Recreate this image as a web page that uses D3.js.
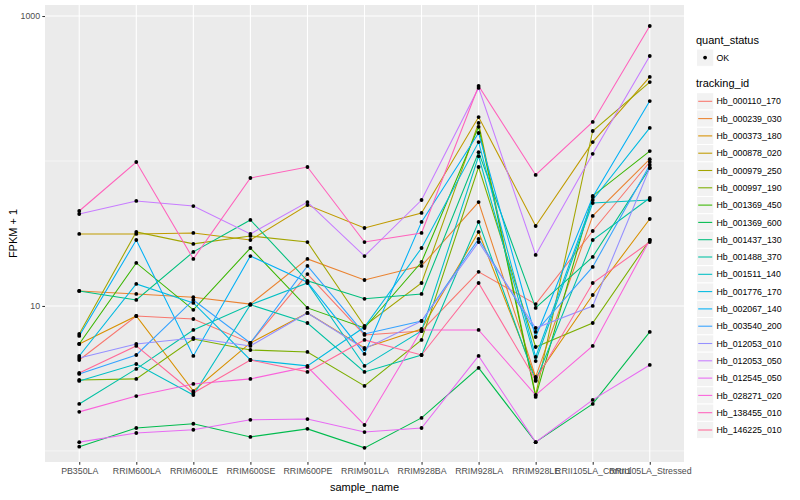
<!DOCTYPE html>
<html><head><meta charset="utf-8">
<script src="https://cdn.jsdelivr.net/npm/d3@7"></script>
<style>body{margin:0;background:#fff}svg{display:block}text{font-family:"Liberation Sans",Arial,Helvetica,sans-serif}</style>
</head><body><svg id="c" width="800" height="500"></svg>
<script>
const samples = ["PB350LA","RRIM600LA","RRIM600LE","RRIM600SE","RRIM600PE","RRIM901LA","RRIM928BA","RRIM928LA","RRIM928LE","RRII105LA_Control","RRII105LA_Stressed"];
const trackingIds = ["Hb_000110_170","Hb_000239_030","Hb_000373_180","Hb_000878_020","Hb_000979_250","Hb_000997_190","Hb_001369_450","Hb_001369_600","Hb_001437_130","Hb_001488_370","Hb_001511_140","Hb_001776_170","Hb_002067_140","Hb_003540_200","Hb_012053_010","Hb_012053_050","Hb_012545_050","Hb_028271_020","Hb_138455_010","Hb_146225_010"];
const colors = ["#F8766D","#EA8331","#D89000","#C09B00","#A3A500","#7CAE00","#39B600","#00BB4E","#00BF7D","#00C1A3","#00BFC4","#00BAE0","#00B0F6","#35A2FF","#9590FF","#C77CFF","#E76BF3","#FA62DB","#FF62BC","#FF6A98"];
// FPKM + 1 values, one array per tracking id, in sample order
const s01 = [4.24, 8.53, 8.13, 5.56, 16.6, 6.31, 6.72, 17.2, 10.3, 32.9, 98.4];
const s02 = [12.7, 12.1, 11.5, 10.3, 21.1, 15.1, 18.9, 52.1, 3.24, 41.8, 103];
const s03 = [5.47, 8.53, 2.59, 5.56, 8.95, 5.13, 6.94, 32.4, 3.19, 11.9, 39.8];
const s04 = [31.4, 31.4, 31.9, 28.5, 49.7, 34.5, 43.8, 201, 35.6, 135, 380];
const s05 = [6.41, 32.4, 26.8, 30.4, 27.6, 7.28, 14.4, 183, 2.43, 161, 350];
const s06 = [3.09, 3.14, 5.92, 4.97, 4.82, 2.81, 5.83, 90.9, 5.21, 7.63, 28.5];
const s07 = [5.47, 19.8, 9.4, 25.1, 9.7, 7.05, 20.1, 172, 2.36, 57.4, 117];
const s08 = [1.07, 1.44, 1.54, 1.25, 1.42, 1.05, 1.69, 3.74, 1.15, 2.11, 6.62];
const s09 = [12.7, 11.0, 23.6, 39.2, 14.9, 11.2, 12.1, 115, 9.7, 21.8, 89.5];
const s10 = [2.11, 3.68, 6.83, 10.2, 7.63, 3.51, 4.59, 38.0, 3.04, 28.5, 55.6];
const s11 = [3.04, 3.98, 2.43, 10.2, 14.4, 3.86, 6.72, 108, 4.17, 51.3, 53.8];
const s12 = [4.52, 14.2, 10.5, 4.24, 3.86, 7.16, 25.1, 135, 4.45, 53.8, 169];
const s13 = [6.21, 28.5, 4.52, 22.1, 14.6, 4.67, 38.0, 156, 6.11, 56.5, 259];
const s14 = [3.40, 4.59, 11.0, 5.56, 18.9, 6.41, 7.88, 29.0, 6.62, 18.6, 93.8];
const s15 = [4.38, 5.47, 6.02, 5.30, 8.95, 5.05, 7.88, 27.6, 7.05, 10.0, 89.5];
const s16 = [43.1, 53.0, 48.9, 31.4, 52.1, 22.1, 53.8, 319, 22.5, 112, 530];
const s17 = [1.15, 1.33, 1.40, 1.64, 1.66, 1.35, 1.44, 4.52, 1.15, 2.25, 3.92];
const s18 = [1.86, 2.39, 2.90, 3.14, 3.80, 1.51, 6.83, 6.83, 2.43, 5.30, 28.5];
const s19 = [45.2, 98.4, 21.1, 76.3, 90.9, 27.6, 31.9, 329, 80.1, 186, 853];
const s20 = [3.45, 5.30, 2.51, 4.24, 3.51, 5.83, 4.59, 14.4, 3.09, 14.4, 27.6];
const seriesValues = [s01,s02,s03,s04,s05,s06,s07,s08,s09,s10,s11,s12,s13,s14,s15,s16,s17,s18,s19,s20];
const yMajorTicks = [10, 1000];
const yMinorTicks = [1, 100];

const svg = d3.select("#c");
const P = {l:45, r:684, t:5, b:462};
const x = d3.scalePoint().domain(samples).range([P.l, P.r]).padding(0.6);
const y = d3.scaleLog().domain([0.839, 1191]).range([P.b, P.t]);

svg.append("rect").attr("x",0).attr("y",0).attr("width",800).attr("height",500).attr("fill","#fff");
svg.append("rect").attr("x",P.l).attr("y",P.t).attr("width",P.r-P.l).attr("height",P.b-P.t).attr("fill","#EBEBEB");
const g = svg.append("g");
yMinorTicks.forEach(v=>g.append("line").attr("x1",P.l).attr("x2",P.r).attr("y1",y(v)).attr("y2",y(v)).attr("stroke","#fff").attr("stroke-width",0.53));
yMajorTicks.forEach(v=>g.append("line").attr("x1",P.l).attr("x2",P.r).attr("y1",y(v)).attr("y2",y(v)).attr("stroke","#fff").attr("stroke-width",1.07));
samples.forEach(s=>g.append("line").attr("x1",x(s)).attr("x2",x(s)).attr("y1",P.t).attr("y2",P.b).attr("stroke","#fff").attr("stroke-width",1.07));

const line = d3.line().x((d,i)=>x(samples[i])).y(d=>y(d));
seriesValues.forEach((vals,k)=>{
  g.append("path").attr("d",line(vals)).attr("fill","none").attr("stroke",colors[k]).attr("stroke-width",1.07);
});
seriesValues.forEach(vals=>{
  vals.forEach((v,i)=>g.append("circle").attr("cx",x(samples[i])).attr("cy",y(v)).attr("r",1.9).attr("fill","#000"));
});

// axes
const xa = svg.append("g").attr("transform",`translate(0,${P.b})`).call(d3.axisBottom(x).tickSize(2.7).tickPadding(3));
xa.select(".domain").remove();
xa.selectAll("line").attr("stroke","#333").attr("stroke-width",1.07);
xa.selectAll("text").attr("fill","#4D4D4D").style("font-size","8.8px");
const ya = svg.append("g").attr("transform",`translate(${P.l},0)`).call(d3.axisLeft(y).tickValues(yMajorTicks).tickFormat(d3.format("d")).tickSize(2.7).tickPadding(2.2));
ya.select(".domain").remove();
ya.selectAll("line").attr("stroke","#333").attr("stroke-width",1.07);
ya.selectAll("text").attr("fill","#4D4D4D").style("font-size","8.8px");
svg.append("text").attr("x",(P.l+P.r)/2).attr("y",491).attr("text-anchor","middle").style("font-size","11px").attr("fill","#000").text("sample_name");
svg.append("text").attr("transform",`translate(17,${(P.t+P.b)/2}) rotate(-90)`).attr("text-anchor","middle").style("font-size","11px").attr("fill","#000").text("FPKM + 1");

// legends
const L = svg.append("g");
L.append("text").attr("x",696).attr("y",44).style("font-size","11px").text("quant_status");
L.append("rect").attr("x",696.5).attr("y",49).attr("width",17.3).attr("height",17.3).attr("fill","#F2F2F2").attr("stroke","#fff");
L.append("circle").attr("cx",705.1).attr("cy",57.6).attr("r",1.9).attr("fill","#000");
L.append("text").attr("x",716.5).attr("y",60.8).style("font-size","8.8px").text("OK");
L.append("text").attr("x",696).attr("y",87).style("font-size","11px").text("tracking_id");
trackingIds.forEach((t,i)=>{
  const cy = 101.3 + i*17.3;
  L.append("rect").attr("x",696.5).attr("y",cy-8.65).attr("width",17.3).attr("height",17.3).attr("fill","#F2F2F2").attr("stroke","#fff");
  L.append("line").attr("x1",698.2).attr("x2",712.2).attr("y1",cy).attr("y2",cy).attr("stroke",colors[i]).attr("stroke-width",1.07);
  L.append("text").attr("x",716.5).attr("y",cy+3.1).style("font-size","8.8px").text(t);
});
</script></body></html>
